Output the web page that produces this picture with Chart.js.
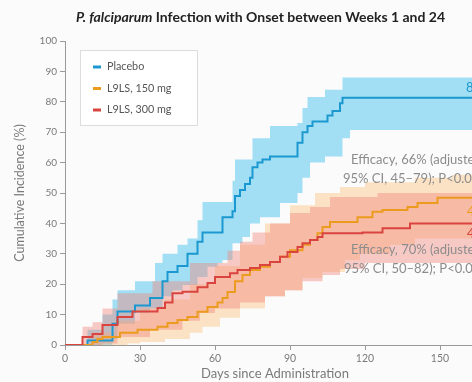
<!DOCTYPE html>
<html>
<head>
<meta charset="utf-8">
<script src="https://cdn.jsdelivr.net/npm/chart.js@4.4.1/dist/chart.umd.min.js"></script>
<style>
  html, body { margin: 0; padding: 0; background: #fbfbfb; overflow: hidden; }
  #wrap { position: relative; width: 560px; height: 382px; }
  #title { position: absolute; left: 0; width: 521px; top: 8px; text-align: center;
           font: bold 14px Lato, sans-serif; color: #222; }
</style>
</head>
<body>
<div id="wrap">
  <div id="title"><i>P. falciparum</i> Infection with Onset between Weeks 1 and 24</div>
  <canvas id="km" width="560" height="382"></canvas>
</div>
<script>
// Kaplan-Meier steps: [day, cumulative incidence %]
const placeboSteps = [[0,0],[9,1.5],[19,7],[21,11],[28,13],[34,15.5],[39,21],[41,24],[45,26],[49,30],[53,34],[55,37],[63,42],[67,44],[68,49],[70,51],[72,53],[74,55],[75,58.5],[77,60],[79,61],[82,62],[93,66.5],[95,70],[97,72],[99,73.5],[105,75.5],[107,77],[110,79.5],[111,81.3],[168,81.3]];
const placeboUpper = [[0,0],[9,5],[15,10],[19,15],[21,18],[28,21],[36,27],[39,30],[45,33],[49,35],[53,41],[55,47],[67,54],[68,61],[75,68],[82,72],[93,73],[95,78],[97,81.6],[104,84],[111,88],[168,88]];
const placeboLower = [[0,0],[19,2],[21,7],[28,10.5],[34,12],[39,16],[43,18],[47,19.7],[53,22.4],[57,25.7],[61,27],[63,28],[67,33.5],[71,35.5],[74,40],[78,42],[86,46.7],[93,50],[95,55],[98,60],[104,62],[111,68],[114,70.7],[168,70.7]];

const low150Steps = [[0,0],[11,1],[13,2],[15,2.6],[22,4],[29,5],[37,6],[41,7.2],[45,8.2],[49,9.2],[53,10.9],[57,12.5],[61,14],[63,15.5],[65,17.4],[68,21],[71,23],[74,24.7],[78,25.7],[82,27.3],[86,29],[90,31.2],[95,33],[98,34.5],[101,36.8],[103,38.8],[106,40.5],[117,42],[123,43.8],[127,44.4],[137,45.4],[141,46.7],[149,48.4],[168,48.4]];
const low150Upper = [[0,0],[11,4],[20,8],[30,12],[40,15],[50,20],[60,26],[70,33],[80,40],[90,46],[100,50],[110,52],[120,53.5],[140,55],[155,56],[168,56]];
const low150Lower = [[0,0],[25,0.5],[30,1],[40,2],[50,4],[55,6],[62,9],[70,12],[80,16],[88,18],[95,22],[103,24],[112,28],[118,30],[130,33],[140,35],[168,35.5]];

const high300Steps = [[0,0],[7,2.6],[11,3.6],[15,6.6],[21,9.2],[27,11],[37,12.2],[40,14],[43,17],[47,17.5],[53,19],[57,20.4],[60,22.4],[66,23.6],[69,24.7],[74,25.3],[78,26.3],[82,27.3],[86,29],[89,30.6],[93,32.2],[95,33.5],[98,34.5],[101,35.5],[103,36.8],[119,37],[127,38.4],[138,40],[168,40]];
const high300Upper = [[0,0],[7,6],[11,7.5],[15,12],[21,17],[35,21],[50,27],[65,31],[70,34],[75,37],[82,40],[90,43.4],[98,45.4],[106,48.7],[125,50],[168,50]];
const high300Lower = [[0,0],[15,0.5],[21,2.6],[34,5],[47,8],[54,10.5],[60,12],[70,14],[80,16],[88,18],[95,21],[103,23],[110,25],[120,27],[168,27]];

const xTicks = [0, 30, 60, 90, 120, 150];
const yTicks = [0, 10, 20, 30, 40, 50, 60, 70, 80, 90, 100];

const pts = arr => arr.map(([x, y]) => ({ x, y }));

const BLUE = '#1c98d0', ORANGE = '#eb9c1f', RED = '#d9443f';

function band(data, color, order, fill) {
  return {
    label: '', data: pts(data), stepped: true, borderWidth: 0, pointRadius: 0,
    backgroundColor: color, fill: fill, order: order, legendHide: true
  };
}
function line(label, data, color, order) {
  return {
    label: label, data: pts(data), stepped: true, borderColor: color, borderWidth: 2,
    pointRadius: 0, fill: false, order: order
  };
}

const datasets = [
  line('Placebo', placeboSteps, BLUE, 2),
  line('L9LS, 150 mg', low150Steps, ORANGE, 1),
  line('L9LS, 300 mg', high300Steps, RED, 0),
  band(placeboUpper, 'rgba(90,200,240,0.55)', 10, '+1'),
  band(placeboLower, 'rgba(0,0,0,0)', 10, false),
  band(low150Upper, 'rgba(250,190,120,0.42)', 9, '+1'),
  band(low150Lower, 'rgba(0,0,0,0)', 9, false),
  band(high300Upper, 'rgba(240,130,120,0.42)', 8, '+1'),
  band(high300Lower, 'rgba(0,0,0,0)', 8, false)
];

const grey = '#7a7a7a';
const fontFam = 'Lato, sans-serif';

// legend box, efficacy notes and end labels drawn over the plot
const overlay = {
  id: 'overlay',
  afterDraw(chart) {
    const ctx = chart.ctx;
    ctx.save();
    ctx.fillStyle = '#ffffff';
    ctx.strokeStyle = '#dcdcdc';
    ctx.lineWidth = 1;
    ctx.fillRect(80.5, 50.5, 117, 75);
    ctx.strokeRect(80.5, 50.5, 117, 75);
    const rows = chart.data.datasets.filter(d => !d.legendHide);
    ctx.font = '10.8px ' + fontFam;
    ctx.textBaseline = 'middle';
    rows.forEach((d, i) => {
      const y = 67 + i * 21.5;
      ctx.strokeStyle = d.borderColor;
      ctx.lineWidth = 3;
      ctx.beginPath();
      ctx.moveTo(93, y);
      ctx.lineTo(101, y);
      ctx.stroke();
      ctx.fillStyle = '#555';
      ctx.fillText(d.label, 107, y);
    });

    ctx.fillStyle = '#8c8c8c';
    ctx.font = '13px ' + fontFam;
    ctx.fillText('Efficacy, 66% (adjusted', 351, 160);
    ctx.fillText('95% CI, 45\u201379); P<0.001', 343, 179);
    ctx.fillText('Efficacy, 70% (adjusted', 351, 250);
    ctx.fillText('95% CI, 50\u201382); P<0.001', 344, 269);

    ctx.font = '13px ' + fontFam;
    ctx.fillStyle = BLUE;
    ctx.fillText('81', 466, 88);
    ctx.fillStyle = ORANGE;
    ctx.fillText('48', 467, 212);
    ctx.fillStyle = RED;
    ctx.fillText('40', 467, 234);
    ctx.restore();
  }
};

new Chart(document.getElementById('km'), {
  type: 'line',
  data: { datasets: datasets },
  options: {
    responsive: false,
    animation: false,
    layout: { padding: { top: 41, right: 75, left: 0, bottom: 0 } },
    plugins: { legend: { display: false }, tooltip: { enabled: false } },
    scales: {
      x: {
        type: 'linear', min: 0, max: 168,
        afterBuildTicks: s => { s.ticks = xTicks.map(v => ({ value: v })); },
        afterFit: s => { s.height = 37; },
        grid: { display: true, drawOnChartArea: false, tickLength: 5, color: '#9a9a9a' },
        border: { display: true, color: '#9a9a9a', width: 1 },
        ticks: { color: grey, font: { family: fontFam, size: 10.5 }, padding: 2, maxRotation: 0 },
        title: { display: true, text: 'Days since Administration', color: grey,
                 font: { family: fontFam, size: 13 }, padding: { top: 0, bottom: 0 } }
      },
      y: {
        min: 0, max: 100,
        afterBuildTicks: s => { s.ticks = yTicks.map(v => ({ value: v })); },
        afterFit: s => { s.width = 65; },
        grid: { display: true, drawOnChartArea: false, tickLength: 5, color: '#9a9a9a' },
        border: { display: true, color: '#9a9a9a', width: 1 },
        ticks: { color: grey, font: { family: fontFam, size: 10 }, padding: 3 },
        title: { display: true, text: 'Cumulative Incidence (%)', color: grey,
                 font: { family: fontFam, size: 12.5 }, padding: { top: 12, bottom: 0 } }
      }
    }
  },
  plugins: [overlay]
});
</script>
</body>
</html>
